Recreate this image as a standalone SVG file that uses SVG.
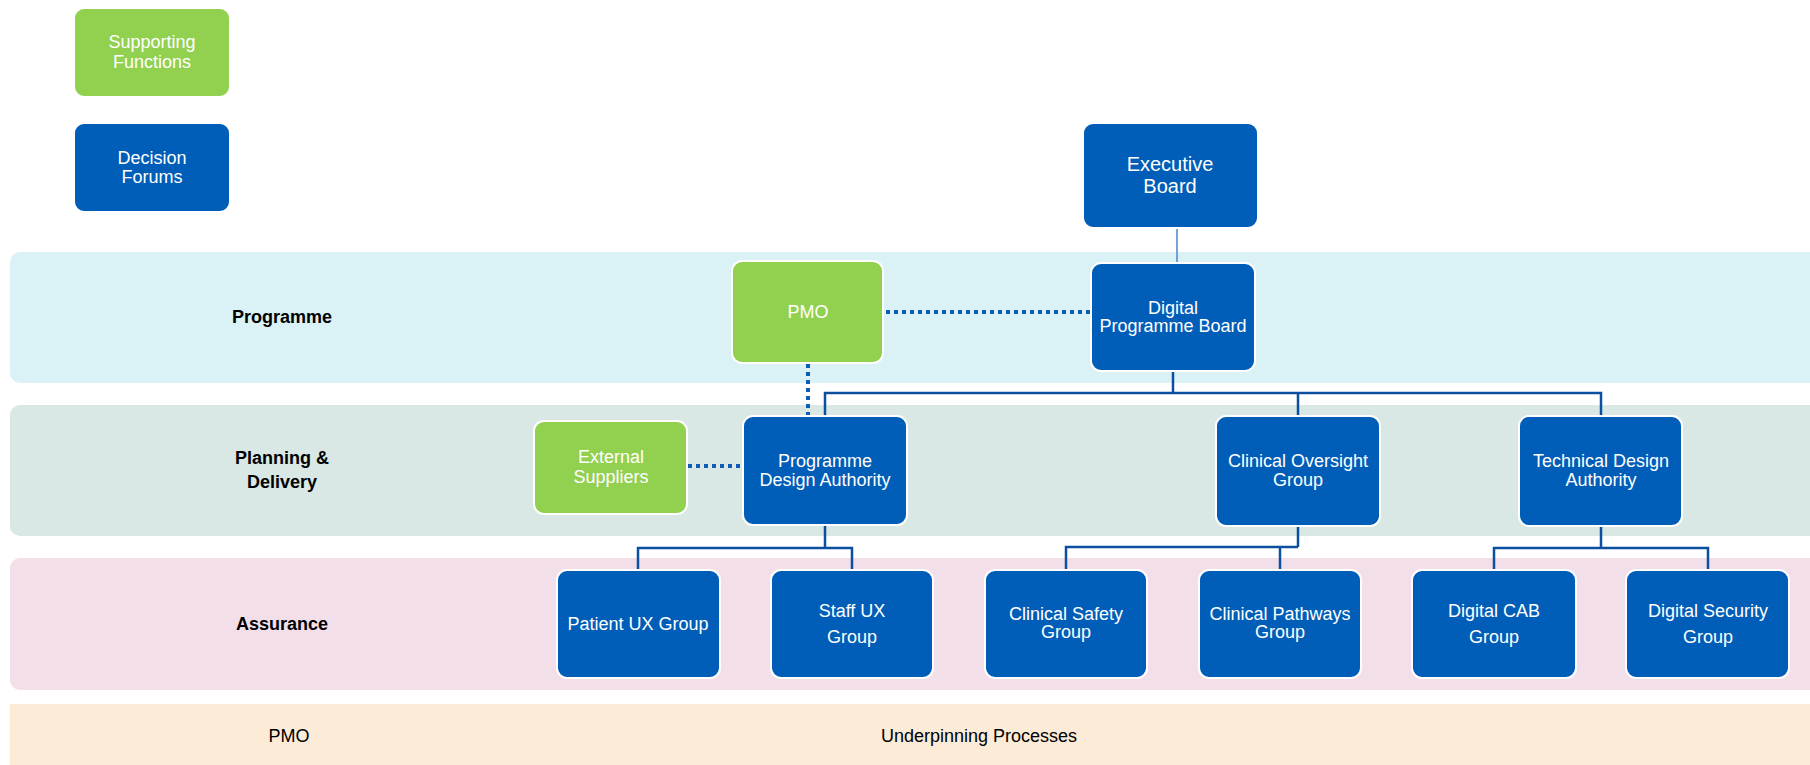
<svg xmlns="http://www.w3.org/2000/svg" width="1810" height="765" viewBox="0 0 1810 765">
<style>
.band{stroke:none}
.blue{fill:#005EB8;stroke:#ffffff;stroke-width:2}
.green{fill:#92D050;stroke:#ffffff;stroke-width:2}
.t{font-family:"Liberation Sans",Arial,sans-serif;font-size:18px;fill:#ffffff;text-anchor:middle}
.lbl{font-family:"Liberation Sans",Arial,sans-serif;font-size:18px;font-weight:bold;fill:#000000;text-anchor:middle}
.plain{font-family:"Liberation Sans",Arial,sans-serif;font-size:18px;fill:#000000;text-anchor:middle}
.tree{fill:none;stroke:#0B4F9E;stroke-width:2.5}
.thin{fill:none;stroke:#4A86C8;stroke-width:1.5}
.dot{fill:none;stroke:#0F5CB5;stroke-width:4;stroke-dasharray:4 4}
</style>
<rect width="1810" height="765" fill="#ffffff"/>
<g id="bands">
<rect class="band" x="10" y="252" width="1820" height="131" rx="10" fill="#DAF1F6"/>
<rect class="band" x="10" y="405" width="1820" height="131" rx="10" fill="#D9E8E4"/>
<rect class="band" x="10" y="558" width="1820" height="132" rx="10" fill="#F2DFEA"/>
<rect class="band" x="10" y="704" width="1820" height="80" rx="0" fill="#FBEBD7"/>
<text class="lbl" x="282" y="323">Programme</text>
<text class="lbl" x="282" y="464">Planning &amp;</text>
<text class="lbl" x="282" y="488">Delivery</text>
<text class="lbl" x="282" y="630">Assurance</text>
<text class="plain" x="289" y="742">PMO</text>
<text class="plain" x="979" y="742">Underpinning Processes</text>
</g>
<g id="connectors">
<line class="thin" x1="1177" y1="228" x2="1177" y2="263"/>
<path class="tree" d="M1173 371V393M825 416V393H1601V416M1298 393V416"/>
<path class="tree" d="M825 525V548M638 570V548H852V570"/>
<path class="tree" d="M1298 526V547M1066 570V547H1298M1280 547V570"/>
<path class="tree" d="M1601 526V548M1494 570V548H1708V570"/>
<line class="dot" x1="886" y1="312" x2="1091" y2="312"/>
<line class="dot" x1="808" y1="364" x2="808" y2="416"/>
<line class="dot" x1="688" y1="466" x2="743" y2="466"/>
</g>
<g id="legend-supporting"><rect class="green" x="74" y="8" width="156" height="89" rx="10" stroke="none"/><text class="t" x="152" y="48">Supporting</text><text class="t" x="152" y="68">Functions</text></g>
<g id="legend-decision"><rect class="blue" x="74" y="123" width="156" height="89" rx="10" stroke="none"/><text class="t" x="152" y="164">Decision</text><text class="t" x="152" y="183">Forums</text></g>
<g id="executive-board"><rect class="blue" x="1083" y="123" width="175" height="105" rx="10"/><text class="t" x="1170" y="171" style="font-size:20px">Executive</text><text class="t" x="1170" y="193" style="font-size:20px">Board</text></g>
<g id="digital-programme-board"><rect class="blue" x="1091" y="263" width="164" height="108" rx="10"/><text class="t" x="1173" y="314">Digital</text><text class="t" x="1173" y="332">Programme Board</text></g>
<g id="pmo"><rect class="green" x="732" y="261" width="151" height="102" rx="10"/><text class="t" x="808" y="318">PMO</text></g>
<g id="external-suppliers"><rect class="green" x="534" y="421" width="153" height="93" rx="10"/><text class="t" x="611" y="463">External</text><text class="t" x="611" y="483">Suppliers</text></g>
<g id="programme-design-authority"><rect class="blue" x="743" y="416" width="164" height="109" rx="10"/><text class="t" x="825" y="467">Programme</text><text class="t" x="825" y="486">Design Authority</text></g>
<g id="clinical-oversight-group"><rect class="blue" x="1216" y="416" width="164" height="110" rx="10"/><text class="t" x="1298" y="467">Clinical Oversight</text><text class="t" x="1298" y="486">Group</text></g>
<g id="technical-design-authority"><rect class="blue" x="1519" y="416" width="163" height="110" rx="10"/><text class="t" x="1601" y="467">Technical Design</text><text class="t" x="1601" y="486">Authority</text></g>
<g id="patient-ux-group"><rect class="blue" x="557" y="570" width="163" height="108" rx="10"/><text class="t" x="638" y="630">Patient UX Group</text></g>
<g id="staff-ux-group"><rect class="blue" x="771" y="570" width="162" height="108" rx="10"/><text class="t" x="852" y="617">Staff UX</text><text class="t" x="852" y="643">Group</text></g>
<g id="clinical-safety-group"><rect class="blue" x="985" y="570" width="162" height="108" rx="10"/><text class="t" x="1066" y="620">Clinical Safety</text><text class="t" x="1066" y="638">Group</text></g>
<g id="clinical-pathways-group"><rect class="blue" x="1199" y="570" width="162" height="108" rx="10"/><text class="t" x="1280" y="620">Clinical Pathways</text><text class="t" x="1280" y="638">Group</text></g>
<g id="digital-cab-group"><rect class="blue" x="1412" y="570" width="164" height="108" rx="10"/><text class="t" x="1494" y="617">Digital CAB</text><text class="t" x="1494" y="643">Group</text></g>
<g id="digital-security-group"><rect class="blue" x="1626" y="570" width="163" height="108" rx="10"/><text class="t" x="1708" y="617">Digital Security</text><text class="t" x="1708" y="643">Group</text></g>
</svg>
